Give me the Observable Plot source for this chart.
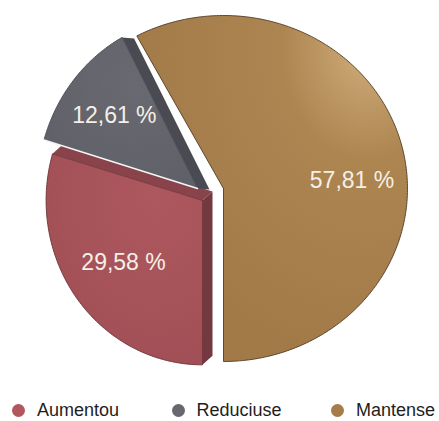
<!DOCTYPE html>
<html><head><meta charset="utf-8">
<script src="https://cdn.jsdelivr.net/npm/d3@7"></script>
<script src="https://cdn.jsdelivr.net/npm/@observablehq/plot@0.6"></script>
<style>
body{margin:0;background:#fff;font-family:"Liberation Sans",Arial,sans-serif;}
#wrap{position:relative;width:439px;height:421px;overflow:hidden;}
#legend{position:absolute;left:12px;top:401px;display:flex;font-size:18px;line-height:19px;color:#1e1e1e;}
.item{display:flex;align-items:center;width:159.5px;}
.dot{width:13px;height:13px;border-radius:50%;margin-right:12px;}
</style></head>
<body><div id="wrap"><div id="chart"></div><div id="legend"></div></div>
<script>
// ---- data ----
const categories = ["Aumentou", "Reduciuse", "Mantense"];
const values = [29.58, 12.61, 57.81];
const labels = ["29,58 %", "12,61 %", "57,81 %"];

// ---- styling / layout constants ----
const W = 439, H = 390;
const CX = 223, CY = 188, RX = 184, RY = 173;
const faceColor = {Aumentou: "url(#gRed)", Reduciuse: "url(#gGray)", Mantense: "url(#gBrown)"};
const legendColor = {Aumentou: "#b0585d", Reduciuse: "#66676f", Mantense: "#a67c49"};
const outline = {Aumentou: "#6e3237", Reduciuse: "#4a4b52", Mantense: "#4f3d28"};
const style = {
  Aumentou:  {off: [-21, 12], sx: 0.85, sy: 0.95, depth: [10, -9], sides: {a0: "#733840", a1: "#88434b"}, lab: 0.63, nudge: [0, 0]},
  Reduciuse: {off: [-26, 0],  sx: 0.87, sy: 0.99, depth: [12, 1],  sides: {a1: "#4a4b52"}, lab: 0.67, nudge: [0, 0]},
  Mantense:  {off: [0, 0],    sx: 1,    sy: 1,    depth: null,     sides: {}, lab: 0.72, nudge: [0, 22]}
};

const pie = d3.pie().sort(null).startAngle(Math.PI).endAngle(3 * Math.PI)(values);

// unit-space helpers (pixel offsets converted to unit space)
const ux = px => px / RX, uy = py => -py / RY;
function pt(s, a, r = 1) {
  return [ux(s.off[0]) + Math.sin(a) * s.sx * r, uy(s.off[1]) + Math.cos(a) * s.sy * r];
}

const polys = [];   // {id, x, y, fill, stroke}
const highlights = [];
const texts = [];
let order = 0;
pie.forEach((p, i) => {
  const cat = categories[i], s = style[cat];
  const apex = [ux(s.off[0]), uy(s.off[1])];
  // side faces
  for (const key of Object.keys(s.sides)) {
    const a = key === "a0" ? p.startAngle : p.endAngle;
    const e = pt(s, a);
    const d = [ux(s.depth[0]), uy(s.depth[1])];
    const quad = [apex, e, [e[0] + d[0], e[1] + d[1]], [apex[0] + d[0], apex[1] + d[1]]];
    const id = cat + "-" + key + "-" + (order++);
    quad.forEach(q => polys.push({id, x: q[0], y: q[1], fill: s.sides[key], stroke: "none"}));
  }
  // front face
  const id = cat + "-front-" + (order++);
  polys.push({id, x: apex[0], y: apex[1], fill: faceColor[cat], stroke: outline[cat]});
  const n = Math.ceil((p.endAngle - p.startAngle) / (Math.PI / 180));
  for (let k = 0; k <= n; k++) {
    const a = p.startAngle + (p.endAngle - p.startAngle) * k / n;
    const q = pt(s, a);
    polys.push({id, x: q[0], y: q[1], fill: faceColor[cat], stroke: outline[cat]});
  }
  polys.push({id, x: apex[0], y: apex[1], fill: faceColor[cat], stroke: outline[cat]});
  // label
  const mid = (p.startAngle + p.endAngle) / 2;
  const l = pt(s, mid, s.lab);
  texts.push({x: l[0] + ux(s.nudge[0]), y: l[1] + uy(s.nudge[1]), text: labels[i]});
});

// edge highlights: brown upper-left edge and gray lower edge
{
  const b = style.Mantense, pb = pie[2];
  const e = pt(b, pb.startAngle);
  highlights.push({id: "hb", x: ux(b.off[0]) - 0.02, y: uy(b.off[1]) + 0.01}, {id: "hb", x: e[0] - 0.01, y: e[1]});
  const g = style.Reduciuse, pg = pie[1];
  const e2 = pt(g, pg.startAngle);
  highlights.push({id: "hg", x: ux(g.off[0]), y: uy(g.off[1])}, {id: "hg", x: e2[0], y: e2[1]});
}

// draw brown first (behind)
const drawOrder = ["Mantense", "Aumentou", "Reduciuse"];
const sorted = drawOrder.flatMap(c => polys.filter(d => d.id.startsWith(c)));

const chart = Plot.plot({
  width: W, height: H, margin: 0,
  x: {domain: [-1, 1], range: [CX - RX, CX + RX], axis: null},
  y: {domain: [-1, 1], range: [CY + RY, CY - RY], axis: null},
  color: {type: "identity"},
  marks: [
    Plot.line(sorted, {x: "x", y: "y", z: "id", fill: "fill", stroke: "stroke", strokeWidth: 0.9, strokeLinejoin: "round"}),
    Plot.line(highlights, {x: "x", y: "y", z: "id", stroke: "#ffffff", strokeWidth: 1.6, strokeOpacity: 0.95}),
    Plot.text(texts, {x: "x", y: "y", text: "text", fill: "#f5f0e6", fontSize: 23, fontFamily: "Liberation Sans, Arial, sans-serif", fontWeight: "normal"})
  ]
});

// gradients for the slice faces
const svg = d3.select(chart);
const defs = svg.insert("defs", ":first-child");
function radial(id, cxp, cyp, stops) {
  const g = defs.append("radialGradient").attr("id", id).attr("cx", cxp).attr("cy", cyp).attr("r", "0.9");
  stops.forEach(([o, c]) => g.append("stop").attr("offset", o).attr("stop-color", c));
}
radial("gBrown", "0.85", "0.1", [["0", "#cfac78"], ["0.35", "#ad8551"], ["1", "#a27a48"]]);
radial("gRed", "0.7", "0.2", [["0", "#ad585e"], ["1", "#a04e55"]]);
radial("gGray", "0.6", "0.3", [["0", "#686971"], ["1", "#5d5e66"]]);
document.getElementById("chart").appendChild(chart);

// legend
const leg = d3.select("#legend");
categories.forEach(c => {
  const it = leg.append("div").attr("class", "item");
  it.append("div").attr("class", "dot").style("background", legendColor[c]);
  it.append("span").text(c);
});
</script>
</body></html>
